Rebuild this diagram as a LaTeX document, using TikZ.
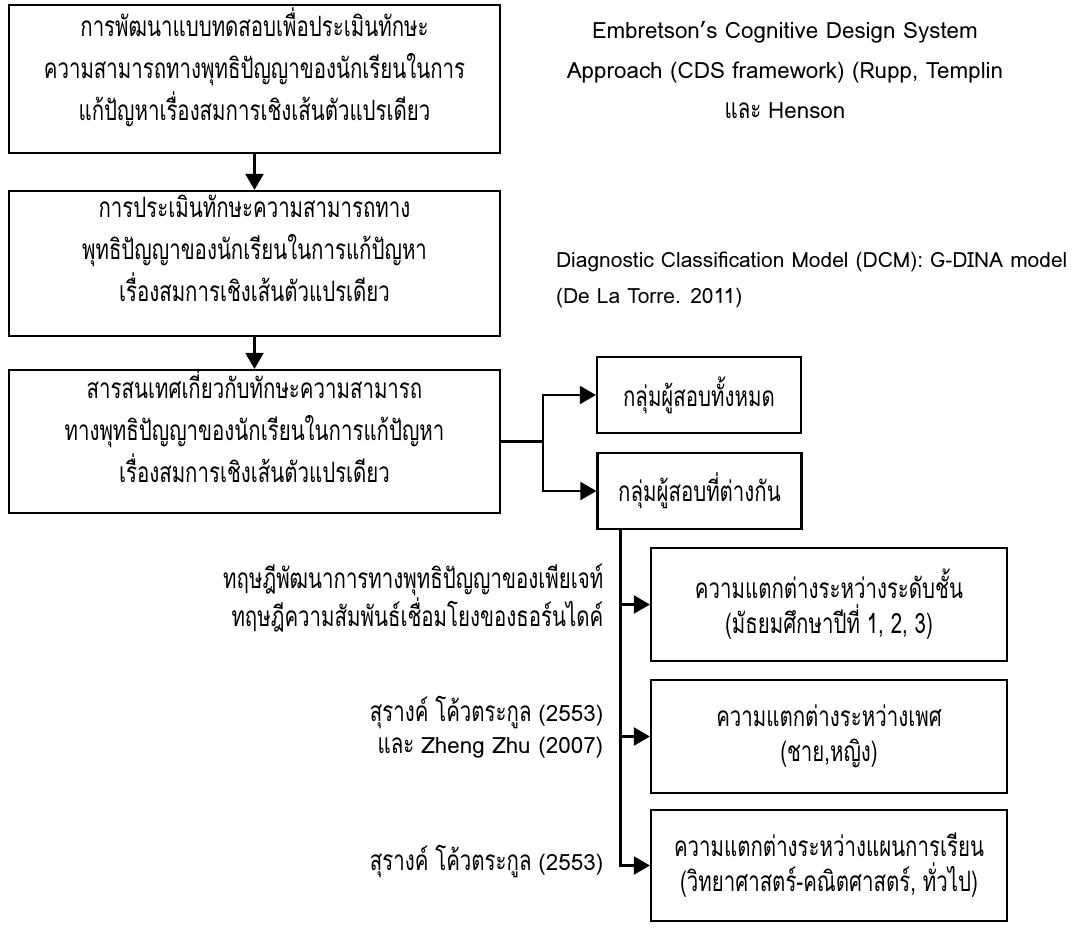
\documentclass[tikz,border=0pt]{standalone}
\usepackage{fontspec}
\setmainfont[Script=Thai,FakeStretch=0.73]{Loma}
\newfontfamily\lat[Scale=0.8]{Loma}
\usetikzlibrary{arrows.meta}

\begin{document}
\begin{tikzpicture}[x=0.5pt,y=-0.5pt,line width=1.1pt]
\tikzset{every node/.style={font=\fontsize{14}{21}\selectfont},
  box/.style={draw,align=center,inner sep=0pt,minimum width=245.5pt},
  group/.style={draw,align=center,inner sep=0pt,minimum width=102pt,minimum height=38pt},
  diffbox/.style={draw,align=center,inner sep=0pt,minimum width=178pt,minimum height=56.5pt,font=\fontsize{14}{17.5}\selectfont},
  arr/.style={-{Triangle[length=8pt,width=9pt]}}}
\useasboundingbox (0,0) rectangle (1088,928);
\node [box,minimum height=74pt] (dev) at (254.5,79) {การพัฒนาแบบทดสอบเพื่อประเมินทักษะ\\ความสามารถทางพุทธิปัญญาของนักเรียนในการ\\แก้ปัญหาเรื่องสมการเชิงเส้นตัวแปรเดียว\\[-6pt]};
\node [box,minimum height=72.5pt] (assess) at (254.5,263.5) {การประเมินทักษะความสามารถทาง\\พุทธิปัญญาของนักเรียนในการแก้ปัญหา\\เรื่องสมการเชิงเส้นตัวแปรเดียว\\[-6pt]};
\node [box,minimum height=71.5pt] (info) at (254.5,441.5) {สารสนเทศเกี่ยวกับทักษะความสามารถ\\ทางพุทธิปัญญาของนักเรียนในการแก้ปัญหา\\เรื่องสมการเชิงเส้นตัวแปรเดียว\\[-6pt]};
\node [group] (all) at (699,395) {กลุ่มผู้สอบทั้งหมด};
\node [group] (diff) at (699.5,491) {กลุ่มผู้สอบที่ต่างกัน};
\node [diffbox] (grade) at (829,604.5) {ความแตกต่างระหว่างระดับชั้น\\(มัธยมศึกษาปีที่ 1, 2, 3)};
\node [diffbox] (sex) at (829,736.5) {ความแตกต่างระหว่างเพศ\\(ชาย,หญิง)};
\node [diffbox,minimum height=55.5pt] (plan) at (829,865.5) {ความแตกต่างระหว่างแผนการเรียน\\(วิทยาศาสตร์-คณิตศาสตร์, ทั่วไป)};
\node [align=center,font=\fontsize{14}{20}\selectfont] (cds) at (785,70) {{\lat Embretson’s Cognitive Design System}\\{\lat Approach (CDS framework) (Rupp, Templin}\\และ {\lat Henson}};
\node [align=left,anchor=west,inner sep=0pt,font=\fontsize{13.1}{18}\selectfont] (dcm) at (555,280) {\lat Diagnostic Classification Model (DCM): G-DINA model\\\lat (De La Torre. 2011)};
\node [align=right,anchor=east,font=\fontsize{14}{16.5}\selectfont] (piaget) at (611,598) {ทฤษฎีพัฒนาการทางพุทธิปัญญาของเพียเจท์\\ทฤษฎีความสัมพันธ์เชื่อมโยงของธอร์นไดค์};
\node [align=right,anchor=east,font=\fontsize{14}{16}\selectfont] (zhu) at (611,727) {สุรางค์ โค้วตระกูล {\lat (2553)}\\และ {\lat Zheng Zhu (2007)}};
\node [anchor=east] (surang) at (611,862) {สุรางค์ โค้วตระกูล {\lat (2553)}};
\draw [arr] (dev) -- (assess);
\draw [arr] (assess) -- (info);
\draw (info.east) -- ++(42,0) coordinate (fork);
\draw [arr] (fork) |- (all.west);
\draw [arr] (fork) |- (diff.west);
\coordinate (trunk) at ([xshift=12pt]diff.south west);
\draw [arr] (trunk) |- (grade.west);
\draw [arr] (trunk) |- (sex.west);
\draw [arr] (trunk) |- (plan.west);
\end{tikzpicture}
\end{document}
